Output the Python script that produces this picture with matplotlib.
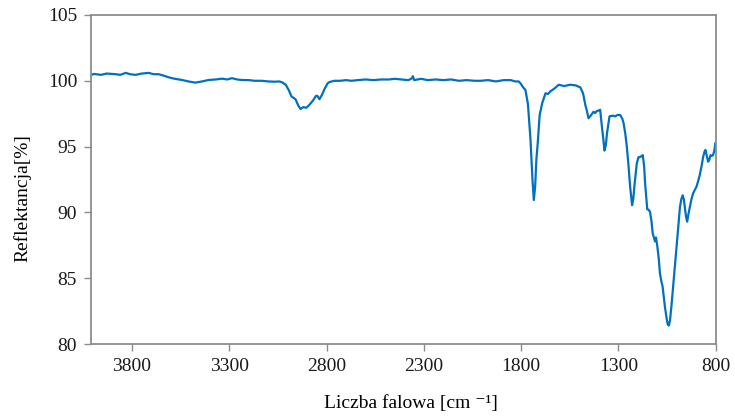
import matplotlib
matplotlib.use("Agg")
import matplotlib.pyplot as plt

plt.rcParams["font.family"] = ["Liberation Serif", "DejaVu Serif"]

# FTIR reflectance spectrum (wavenumber in cm^-1, reflectance in %)
wavenumber = [
    4010, 3995, 3960, 3930, 3885, 3860, 3833, 3810, 3782, 3750,
    3714, 3690, 3663, 3640, 3611, 3580, 3543, 3510, 3475, 3440,
    3407, 3370, 3339, 3310, 3287, 3260, 3236, 3200, 3170, 3134,
    3100, 3066, 3045, 3031, 3010, 2995, 2980, 2960, 2945, 2934,
    2920, 2905, 2893, 2870, 2855, 2847, 2837, 2825, 2810, 2795,
    2786, 2760, 2730, 2700, 2673, 2640, 2600, 2560, 2520, 2480,
    2450, 2417, 2380, 2360, 2357, 2350, 2315, 2280, 2240, 2200,
    2161, 2120, 2080, 2040, 2008, 1970, 1930, 1890, 1854, 1830,
    1813, 1803, 1790, 1778, 1765, 1752, 1742, 1735, 1728, 1722,
    1715, 1705, 1692, 1675, 1662, 1650, 1630, 1607, 1580, 1547,
    1520, 1496, 1482, 1470, 1462, 1454, 1440, 1428, 1420, 1411,
    1400, 1394, 1385, 1378, 1372, 1365, 1359, 1346, 1330, 1317,
    1305, 1291, 1280, 1274, 1265, 1257, 1248, 1240, 1230, 1224,
    1218, 1206, 1197, 1189, 1175, 1168, 1163, 1152, 1145, 1138,
    1130, 1124, 1118, 1112, 1107, 1100, 1093, 1087, 1080, 1073,
    1061, 1053, 1047, 1041, 1035, 1027, 1019, 1010, 1001, 992,
    984, 977, 970, 964, 959, 953, 947, 940, 933, 925,
    916, 908, 899, 890, 882, 873, 865, 858, 853, 846,
    839, 833, 827, 820, 814, 807, 802,
]
reflectance = [
    100.45, 100.52, 100.45, 100.55, 100.50, 100.45, 100.60, 100.50, 100.45, 100.55,
    100.60, 100.50, 100.50, 100.40, 100.26, 100.15, 100.06, 99.95, 99.86, 99.95,
    100.06, 100.10, 100.16, 100.10, 100.20, 100.10, 100.06, 100.05, 100.00, 100.00,
    99.95, 99.93, 99.95, 99.90, 99.70, 99.30, 98.80, 98.60, 98.10, 97.85,
    98.00, 97.95, 98.10, 98.50, 98.85, 98.85, 98.60, 98.90, 99.40, 99.80,
    99.90, 100.00, 100.00, 100.05, 100.00, 100.05, 100.10, 100.05, 100.10, 100.10,
    100.15, 100.10, 100.05, 100.20, 100.35, 100.05, 100.15, 100.05, 100.10, 100.05,
    100.10, 100.00, 100.05, 100.00, 100.00, 100.05, 99.95, 100.05, 100.05, 99.95,
    99.95, 99.80, 99.50, 99.30, 98.20, 95.50, 92.50, 90.94, 92.00, 94.00,
    95.25, 97.40, 98.30, 99.05, 99.00, 99.20, 99.40, 99.70, 99.60, 99.70,
    99.65, 99.50, 99.05, 98.15, 97.70, 97.15, 97.40, 97.65, 97.55, 97.70,
    97.75, 97.80, 96.50, 95.60, 94.70, 95.10, 96.00, 97.30, 97.35, 97.30,
    97.40, 97.40, 97.10, 96.80, 96.00, 95.00, 93.50, 91.95, 90.55, 91.00,
    92.00, 93.70, 94.20, 94.20, 94.35, 93.50, 92.20, 90.24, 90.20, 90.05,
    89.30, 88.40, 88.10, 87.80, 88.10, 87.40, 86.50, 85.40, 84.80, 84.35,
    82.80, 82.00, 81.50, 81.40, 81.80, 83.00, 84.35, 85.90, 87.40, 89.00,
    90.40, 91.00, 91.30, 91.00, 90.40, 89.70, 89.30, 89.90, 90.40, 91.00,
    91.45, 91.70, 91.95, 92.40, 92.85, 93.50, 94.20, 94.60, 94.75, 94.30,
    93.85, 94.00, 94.35, 94.30, 94.35, 94.70, 95.25,
]

x_ticks = [3800, 3300, 2800, 2300, 1800, 1300, 800]
y_ticks = [80, 85, 90, 95, 100, 105]

fig = plt.figure(figsize=(7.35, 4.16), dpi=100)
ax = fig.add_axes([0.1238, 0.173, 0.850, 0.791])

ax.plot(wavenumber, reflectance, color="#0070C0", linewidth=1.6)

ax.set_xlim(4011, 800)
ax.set_ylim(80, 105)
ax.set_xticks(x_ticks)
ax.set_yticks(y_ticks)

spine_color = "#8c8c8c"
for s in ax.spines.values():
    s.set_color(spine_color)
    s.set_linewidth(1.3)
ax.tick_params(axis="both", direction="out", length=5, width=1.0,
               color=spine_color, labelsize=14, labelcolor="#1a1a1a")
ax.tick_params(axis="x", pad=5)
ax.tick_params(axis="y", pad=5)

ax.set_xlabel("Liczba falowa [cm \u207b\u00b9]", fontsize=14, va="center")
ax.xaxis.set_label_coords(0.512, -0.182)
ax.set_ylabel("Reflektancja[%]", fontsize=14, va="center")
ax.yaxis.set_label_coords(-0.110, 0.445)

fig.savefig("out.png", dpi=100)
